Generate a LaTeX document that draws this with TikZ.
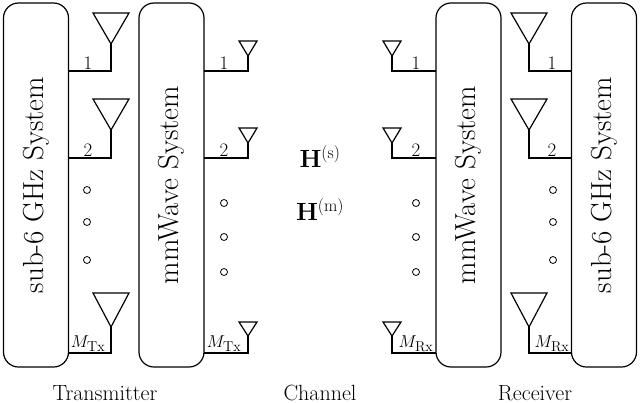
\documentclass[tikz,border=0pt]{standalone}
\usepackage{amsmath}
\begin{document}
\begin{tikzpicture}[x=1pt,y=-1pt,line width=1.2pt,
  sysbox/.style={draw,rounded corners=15pt,minimum width=65pt,minimum height=364pt,inner sep=0pt},
  lbl/.style={font=\fontsize{19}{19}\selectfont,inner sep=1pt,anchor=south},
  dot/.style={circle,draw,line width=0.8pt,minimum size=7pt,inner sep=0pt}]
\useasboundingbox (0,0) rectangle (640,402);
\foreach \s/\o/\sub/\side in {1/0/Tx/T,-1/640/Rx/R}{
  \node[sysbox] (six\side) at (\o+\s*36,185) {\rotatebox{90}{\fontsize{29}{29}\selectfont sub-6 GHz System}};
  \node[sysbox] (mm\side) at (\o+\s*171.5,185) {\rotatebox{90}{\fontsize{29}{29}\selectfont mmWave System}};
  \foreach \f/\t/\a/\n/\l in {71/13/44/a/1,158/99/130/b/2,353/293/327/c/{$M_{\mathrm{\sub}}$}}{
    \coordinate (sa\side\n) at (\o+\s*111,\a);
    \draw (\o+\s*69,\f) -- (\o+\s*111,\f) -- (sa\side\n);
    \draw (sa\side\n) -- (\o+\s*93,\t) -- (\o+\s*129,\t) -- cycle;
    \node[lbl] (sl\side\n) at (\o+\s*88,\f) {\l};
  }
  \foreach \f/\t/\a/\n/\l in {71/41/56/a/1,158/128/143/b/2,353/322/336/c/{$M_{\mathrm{\sub}}$}}{
    \coordinate (ma\side\n) at (\o+\s*248,\a);
    \draw (\o+\s*204,\f) -- (\o+\s*248,\f) -- (ma\side\n);
    \draw (ma\side\n) -- (\o+\s*239,\t) -- (\o+\s*257,\t) -- cycle;
    \node[lbl] (ml\side\n) at (\o+\s*224,\f) {\l};
  }
  \foreach \y/\k in {190/1,222/2,260/3} \node[dot] (sd\side\k) at (\o+\s*87,\y) {};
  \foreach \y/\k in {203/1,237/2,272/3} \node[dot] (md\side\k) at (\o+\s*224,\y) {};
}
\node[font=\fontsize{26}{26}\selectfont] (hs) at (320,157) {$\mathbf{H}^{(\mathrm{s})}$};
\node[font=\fontsize{26}{26}\selectfont] (hm) at (320,210) {$\mathbf{H}^{(\mathrm{m})}$};
\foreach \x/\t/\n in {105/Transmitter/tx,320/Channel/ch,535/Receiver/rx}
  \node[font=\fontsize{22}{22}\selectfont] (\n) at (\x,393) {\t};
\end{tikzpicture}
\end{document}
